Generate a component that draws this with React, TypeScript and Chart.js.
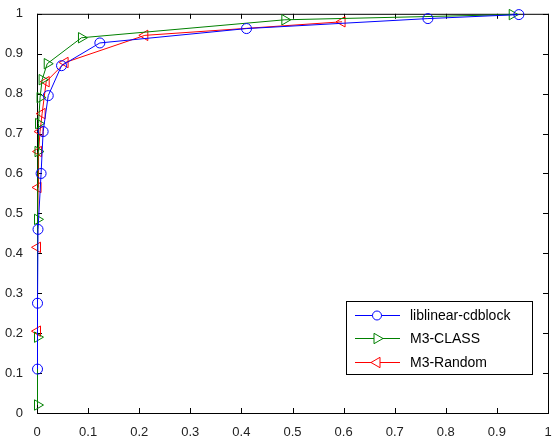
import React, { useEffect, useRef } from "react";
import { Chart, registerables } from "chart.js";

Chart.register(...registerables);

const blueX = [0.001, 0.001, 0.002, 0.008, 0.012, 0.022, 0.048, 0.123, 0.41, 0.765, 0.943];
const blueY = [0.11, 0.275, 0.46, 0.6, 0.705, 0.795, 0.87, 0.927, 0.963, 0.988, 0.998];
const greenX = [0.001, 0.001, 0.001, 0.002, 0.003, 0.006, 0.01, 0.02, 0.087, 0.485, 0.93];
const greenY = [0.02, 0.19, 0.485, 0.655, 0.725, 0.79, 0.835, 0.875, 0.94, 0.985, 0.998];
const redX = [0.001, 0.001, 0.002, 0.003, 0.006, 0.01, 0.018, 0.055, 0.211, 0.597];
const redY = [0.205, 0.415, 0.565, 0.655, 0.705, 0.75, 0.83, 0.878, 0.946, 0.98];
const seriesNames = ["liblinear-cdblock", "M3-CLASS", "M3-Random"];
const seriesColors = ["#0000ff", "#008000", "#ff0000"];
const tickValues = [0, 0.1, 0.2, 0.3, 0.4, 0.5, 0.6, 0.7, 0.8, 0.9, 1];

const FONT = "'Liberation Sans', Arial, sans-serif";

const toPts = (xs: number[], ys: number[]) => xs.map((x, i) => ({ x, y: ys[i] }));

function drawMarker(ctx: CanvasRenderingContext2D, style: string, rotDeg: number, r: number, x: number, y: number, color: string) {
  ctx.save();
  ctx.strokeStyle = color;
  ctx.fillStyle = "#fff";
  ctx.lineWidth = 1;
  ctx.beginPath();
  if (style === "circle") {
    ctx.arc(x, y, r, 0, Math.PI * 2);
  } else {
    const rad = (rotDeg * Math.PI) / 180;
    for (let k = 0; k < 3; k++) {
      const ang = rad - Math.PI / 2 + (k * 2 * Math.PI) / 3;
      const px = x + Math.cos(ang) * r;
      const py = y + Math.sin(ang) * r;
      if (k === 0) ctx.moveTo(px, py);
      else ctx.lineTo(px, py);
    }
    ctx.closePath();
  }
  ctx.fill();
  ctx.stroke();
  ctx.restore();
}

const framePlugin = {
  id: "matlabFrame",
  beforeDatasetsDraw(chart: any) {
    const { ctx, chartArea: a, scales } = chart;
    const xs = scales.x;
    const ys = scales.y;
    ctx.save();
    ctx.strokeStyle = "#000";
    ctx.lineWidth = 1;
    ctx.strokeRect(a.left + 0.5, a.top + 0.5, a.right - a.left, a.bottom - a.top);
    const L = 5;
    ctx.beginPath();
    tickValues.forEach((v) => {
      const px = Math.round(xs.getPixelForValue(v)) + 0.5;
      ctx.moveTo(px, a.bottom);
      ctx.lineTo(px, a.bottom - L);
      ctx.moveTo(px, a.top);
      ctx.lineTo(px, a.top + L);
      const py = Math.round(ys.getPixelForValue(v)) + 0.5;
      ctx.moveTo(a.left, py);
      ctx.lineTo(a.left + L, py);
      ctx.moveTo(a.right, py);
      ctx.lineTo(a.right - L, py);
    });
    ctx.stroke();
    ctx.restore();
  },
  afterDatasetsDraw(chart: any) {
    const { ctx } = chart;
    ctx.save();
    const bx = 346, by = 301, bw = 186, bh = 73;
    ctx.fillStyle = "#fff";
    ctx.fillRect(bx, by, bw, bh);
    ctx.strokeStyle = "#000";
    ctx.lineWidth = 1;
    ctx.strokeRect(bx + 0.5, by + 0.5, bw, bh);
    const rows = [315, 338, 362];
    const styles = ["circle", "triangle", "triangle"];
    const rots = [0, 90, -90];
    const radii = [4.5, 6, 6];
    rows.forEach((ry, i) => {
      ctx.strokeStyle = seriesColors[i];
      ctx.lineWidth = 1;
      ctx.beginPath();
      ctx.moveTo(355, ry + 0.5);
      ctx.lineTo(400, ry + 0.5);
      ctx.stroke();
      drawMarker(ctx, styles[i], rots[i], radii[i], 377, ry + 0.5, seriesColors[i]);
      ctx.fillStyle = "#000";
      ctx.font = `14px ${FONT}`;
      ctx.textBaseline = "middle";
      ctx.textAlign = "left";
      ctx.fillText(seriesNames[i], 410, ry + 1);
    });
    ctx.restore();
  },
};

export default function App() {
  const ref = useRef<HTMLCanvasElement>(null);
  useEffect(() => {
    document.body.style.margin = "0";
    const fmt = (v: any) => String(Number(Number(v).toFixed(1)));
    const mk = (i: number, xs: number[], ys: number[], style: string, rot: number, r: number) => ({
      label: seriesNames[i],
      data: toPts(xs, ys),
      showLine: true,
      clip: false,
      borderColor: seriesColors[i],
      backgroundColor: "rgba(0,0,0,0)",
      borderWidth: 1,
      pointStyle: style,
      pointRotation: rot,
      pointRadius: r,
      pointBorderWidth: 1,
    });
    const chart = new Chart(ref.current as HTMLCanvasElement, {
      type: "scatter",
      data: {
        datasets: [
          mk(0, blueX, blueY, "circle", 0, 5),
          mk(1, greenX, greenY, "triangle", 90, 6),
          mk(2, redX, redY, "triangle", -90, 6),
        ],
      },
      options: {
        responsive: false,
        animation: false,
        layout: { padding: { left: 0, top: 11, right: 12, bottom: 0 } },
        plugins: { legend: { display: false }, tooltip: { enabled: false } },
        scales: {
          x: {
            type: "linear",
            min: 0,
            max: 1,
            afterBuildTicks: (s: any) => {
              s.ticks = tickValues.map((v) => ({ value: v }));
            },
            afterFit: (s: any) => {
              s.height = 31;
            },
            grid: { display: false },
            border: { display: false },
            ticks: {
              padding: 4,
              color: "#222",
              font: { family: FONT, size: 13 },
              callback: fmt,
              maxRotation: 0,
              autoSkip: false,
            },
          },
          y: {
            type: "linear",
            min: 0,
            max: 1,
            afterBuildTicks: (s: any) => {
              s.ticks = tickValues.map((v) => ({ value: v }));
            },
            afterFit: (s: any) => {
              s.width = 37;
            },
            grid: { display: false },
            border: { display: false },
            ticks: {
              padding: 6,
              color: "#222",
              font: { family: FONT, size: 13 },
              callback: fmt,
              autoSkip: false,
            },
          },
        },
      },
      plugins: [framePlugin],
    } as any);
    return () => chart.destroy();
  }, []);
  return <canvas ref={ref} width={560} height={444} style={{ display: "block" }} />;
}
